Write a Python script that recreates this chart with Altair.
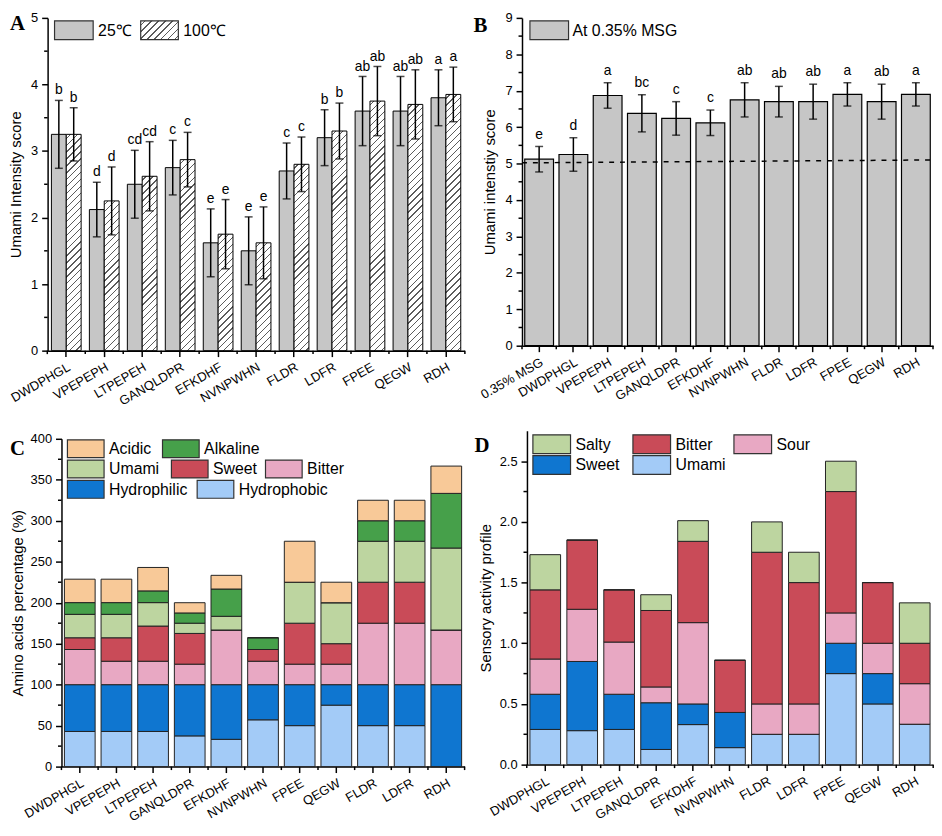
import altair as alt
import pandas as pd

SANS = "Liberation Sans"
SERIF = "Liberation Serif"

# ------------------------------------------------------------------ data
peptides_a = ["DWDPHGL", "VPEPEPH", "LTPEPEH", "GANQLDPR", "EFKDHF", "NVNPWHN",
              "FLDR", "LDFR", "FPEE", "QEGW", "RDH"]
score_25 = [3.25, 2.12, 2.50, 2.75, 1.62, 1.50, 2.70, 3.20, 3.60, 3.60, 3.80]
err_25 = [0.51, 0.41, 0.51, 0.41, 0.51, 0.51, 0.42, 0.42, 0.52, 0.52, 0.42]
score_100 = [3.25, 2.25, 2.62, 2.87, 1.75, 1.62, 2.80, 3.30, 3.75, 3.70, 3.85]
err_100 = [0.40, 0.51, 0.52, 0.41, 0.52, 0.54, 0.41, 0.42, 0.52, 0.52, 0.41]
letters_a = ["b", "d", "cd", "c", "e", "e", "c", "b", "ab", "ab", "a"]
temps = ["25℃", "100℃"]

samples_b = ["0.35% MSG", "DWDPHGL", "VPEPEPH", "LTPEPEH", "GANQLDPR", "EFKDHF",
             "NVNPWHN", "FLDR", "LDFR", "FPEE", "QEGW", "RDH"]
score_b = [5.12, 5.25, 6.87, 6.38, 6.24, 6.12, 6.75, 6.70, 6.70, 6.90, 6.70, 6.90]
err_b = [0.35, 0.46, 0.35, 0.51, 0.46, 0.35, 0.47, 0.42, 0.48, 0.32, 0.48, 0.32]
letters_b = ["e", "d", "a", "bc", "c", "c", "ab", "ab", "ab", "a", "ab", "a"]
msg_line = [5.02, 5.10]
legend_b = "At 0.35% MSG"

peptides_c = ["DWDPHGL", "VPEPEPH", "LTPEPEH", "GANQLDPR", "EFKDHF", "NVNPWHN",
              "FPEE", "QEGW", "FLDR", "LDFR", "RDH"]
names_c = ["Hydrophobic", "Hydrophilic", "Bitter", "Sweet", "Umami", "Alkaline", "Acidic"]
hydrophobic_c = [42.9, 42.9, 42.9, 37.5, 33.3, 57.1, 50.0, 75.0, 50.0, 50.0, 0.0]
hydrophilic_c = [57.1, 57.1, 57.1, 62.5, 66.7, 42.9, 50.0, 25.0, 50.0, 50.0, 100.0]
bitter_c = [42.9, 28.6, 28.6, 25.0, 66.7, 28.6, 25.0, 25.0, 75.0, 75.0, 66.7]
sweet_c = [14.3, 28.6, 42.9, 37.5, 0.0, 14.3, 50.0, 25.0, 50.0, 50.0, 0.0]
umami_c = [28.6, 28.6, 28.6, 12.5, 16.7, 0.0, 50.0, 50.0, 50.0, 50.0, 100.0]
alkaline_c = [14.3, 14.3, 14.3, 12.5, 33.3, 14.3, 0.0, 0.0, 25.0, 25.0, 66.7]
acidic_c = [28.6, 28.6, 28.6, 12.5, 16.7, 0.0, 50.0, 25.0, 25.0, 25.0, 33.3]

peptides_d = ["DWDPHGL", "VPEPEPH", "LTPEPEH", "GANQLDPR", "EFKDHF", "NVNPWHN",
              "FLDR", "LDFR", "FPEE", "QEGW", "RDH"]
names_d = ["Umami", "Sweet", "Sour", "Bitter", "Salty"]
umami_d = [0.29, 0.28, 0.29, 0.125, 0.33, 0.14, 0.25, 0.25, 0.75, 0.50, 0.333]
sweet_d = [0.29, 0.57, 0.29, 0.385, 0.17, 0.29, 0.0, 0.0, 0.25, 0.25, 0.0]
sour_d = [0.29, 0.43, 0.43, 0.13, 0.67, 0.0, 0.25, 0.25, 0.25, 0.25, 0.334]
bitter_d = [0.57, 0.57, 0.43, 0.63, 0.67, 0.43, 1.25, 1.00, 1.00, 0.50, 0.333]
salty_d = [0.29, 0.0, 0.0, 0.13, 0.17, 0.0, 0.25, 0.25, 0.25, 0.0, 0.333]

# ------------------------------------------------------------------ style / layout
GRAY = "#c6c6c6"
PEACH = "#f8c998"
GREEN = "#46a04a"
LGREEN = "#bdd5a0"
RED = "#c94b58"
PINK = "#e8a8c3"
BLUE = "#0f76d0"
LBLUE = "#a3cbf7"
colors_c = [LBLUE, BLUE, PINK, RED, LGREEN, GREEN, PEACH]
colors_d = [LBLUE, BLUE, PINK, RED, LGREEN]

COL1, COL2 = 421, 415          # grid column widths (plot areas)
HA, HB = 336, 331
# panel C: plot area inside its cell
C_X0, C_X1, C_Y0, C_Y1 = 14, 421, 8, 339
# panel D
D_X0, D_X1, D_H = 5, 415, 337
TICK = 6
MINOR = 3.5


def hatch(w, h, step=7.0, lw=1.3, ink="#5c5c5c", paper="white"):
    """diagonal '///' hatch as a hard-stop linear gradient in bbox units"""
    total = w + h
    c = (1 / h + 1 / w) / (1 / h ** 2 + 1 / w ** 2)
    stops = [{"offset": 0, "color": paper}]
    pos = step / 2
    while pos + lw < total:
        a, b = round(pos / total, 5), round((pos + lw) / total, 5)
        stops += [{"offset": a, "color": paper}, {"offset": a, "color": ink},
                  {"offset": b, "color": ink}, {"offset": b, "color": paper}]
        pos += step
    stops.append({"offset": 1, "color": paper})
    return {"gradient": "linear", "x1": 0, "y1": 0, "x2": round(c / h, 5),
            "y2": round(c / w, 5), "stops": stops}


XAXIS = alt.Axis(title=None, labelAngle=330, labelAlign="right", labelBaseline="top",
                 labelPadding=4, tickSize=TICK, labelFontSize=13, labelOverlap=False,
                 domainWidth=1.5, tickWidth=1.5)


class Panel:
    def __init__(self, order, pi, po, xr, yr, domain, values, title, tpad, fmt=None):
        self.order, self.pi, self.po, self.xr, self.yr = order, pi, po, xr, yr
        self.domain = domain
        akw = dict(values=values, title=title, tickSize=TICK, labelPadding=4,
                   titlePadding=tpad, labelFontSize=13, titleFontSize=15, offset=-xr[0])
        if fmt:
            akw["format"] = fmt
        self.yaxis = alt.Axis(**akw)

    def x(self, **kw):
        return alt.X("pep:N", sort=self.order,
                     scale=alt.Scale(paddingInner=self.pi, paddingOuter=self.po,
                                     range=list(self.xr)),
                     axis=XAXIS, **kw)

    def yscale(self):
        return alt.Scale(domain=self.domain, nice=False, range=list(self.yr))

    def y(self, field, **kw):
        return alt.Y(field, scale=self.yscale(), axis=self.yaxis, **kw)

    def step(self):
        return (self.xr[1] - self.xr[0]) / (len(self.order) - self.pi + 2 * self.po)

    def minor(self, minor_vals):
        gap = self.pi * self.step()
        x0 = self.xr[0]
        ybot = self.yr[0]
        ymin = alt.Chart(pd.DataFrame({"v": minor_vals})).mark_rule(
            color="black", strokeWidth=1.5).encode(
            y=self.y("v:Q"), x=alt.value(x0), x2=alt.value(x0 - MINOR))
        xmin = alt.Chart(pd.DataFrame({"pep": self.order})).mark_rule(
            color="black", strokeWidth=1.5, xOffset=-gap / 2).encode(
            x=self.x(bandPosition=0), y=alt.value(ybot), y2=alt.value(ybot + MINOR))
        xend = alt.Chart(pd.DataFrame({"pep": self.order[-1:]})).mark_rule(
            color="black", strokeWidth=1.5, xOffset=gap / 2).encode(
            x=self.x(bandPosition=1), y=alt.value(ybot), y2=alt.value(ybot + MINOR))
        return [ymin, xmin, xend]


one = pd.DataFrame({"d": [0]})


def box(x0, x1, y0, y1, fill, stroke="#333333", sw=1.2):
    return alt.Chart(one).mark_rect(fill=fill, stroke=stroke, strokeWidth=sw).encode(
        x=alt.value(x0), x2=alt.value(x1), y=alt.value(y0), y2=alt.value(y1))


def label(x, y, text, size=16):
    return alt.Chart(one).mark_text(align="left", baseline="middle", fontSize=size,
                                    font=SANS, color="black").encode(
        x=alt.value(x), y=alt.value(y), text=alt.value(text))


def panel_letter(x, y, text):
    return alt.Chart(one).mark_text(align="left", baseline="middle", fontSize=21,
                                    font=SERIF, fontWeight="bold", color="black").encode(
        x=alt.value(x), y=alt.value(y), text=alt.value(text))


# ------------------------------------------------------------------ panel A
pA = Panel(peptides_a, 0.217, 0.10, (0, COL1), (HA, 0), [0, 5], [0, 1, 2, 3, 4, 5],
           "Umami Intensity score", 7)
dfA = pd.DataFrame({"pep": peptides_a, "s25": score_25, "e25": err_25,
                    "s100": score_100, "e100": err_100, "lab": letters_a})
dfA["lo25"] = dfA.s25 - dfA.e25
dfA["hi25"] = dfA.s25 + dfA.e25
dfA["lo100"] = dfA.s100 - dfA.e100
dfA["hi100"] = dfA.s100 + dfA.e100
BW = 15

layersA = [alt.Chart(dfA).mark_bar(width=BW, xOffset=-BW / 2, fill=GRAY, stroke="black",
                                   strokeWidth=1).encode(x=pA.x(), y=pA.y("s25:Q"))]
for i, pep in enumerate(peptides_a):
    h = score_100[i] / 5 * HA
    layersA.append(alt.Chart(dfA[dfA.pep == pep]).mark_bar(
        width=BW, xOffset=BW / 2, fill=hatch(BW, h), stroke="black", strokeWidth=1).encode(
        x=pA.x(), y=pA.y("s100:Q")))
for key, off in (("25", -BW / 2), ("100", BW / 2)):
    layersA.append(alt.Chart(dfA).mark_rule(color="black", strokeWidth=1.5, xOffset=off).encode(
        x=pA.x(), y=pA.y(f"lo{key}:Q"), y2=f"hi{key}:Q"))
    for end in ("lo", "hi"):
        layersA.append(alt.Chart(dfA).mark_tick(color="black", size=8, thickness=1.5,
                                                orient="horizontal", xOffset=off).encode(
            x=pA.x(), y=pA.y(f"{end}{key}:Q")))
    layersA.append(alt.Chart(dfA).mark_text(fontSize=14, font=SANS, baseline="alphabetic",
                                            dy=-6, xOffset=off, color="black").encode(
        x=pA.x(), y=pA.y(f"hi{key}:Q"), text="lab:N"))
layersA += pA.minor([0.5, 1.5, 2.5, 3.5, 4.5])
layersA += [box(7, 46, 3, 22, GRAY), label(51, 13, temps[0]),
            box(94, 132, 3, 22, hatch(38, 19)), label(137, 13, temps[1]),
            panel_letter(-38, 6, "A")]
chartA = alt.layer(*layersA).properties(width=COL1, height=HA)

# ------------------------------------------------------------------ panel B
pB = Panel(samples_b, 0.16, 0.08, (0, COL2), (HB, 0), [0, 9], list(range(10)),
           "Umami intenstiy score", 8)
dfB = pd.DataFrame({"pep": samples_b, "s": score_b, "e": err_b, "lab": letters_b})
dfB["lo"] = dfB.s - dfB.e
dfB["hi"] = dfB.s + dfB.e
layersB = [
    alt.Chart(dfB).mark_bar(fill=GRAY, stroke="black", strokeWidth=1.2).encode(
        x=pB.x(), y=pB.y("s:Q")),
    alt.Chart(dfB).mark_rule(color="black", strokeWidth=1.5).encode(
        x=pB.x(), y=pB.y("lo:Q"), y2="hi:Q"),
    alt.Chart(dfB).mark_tick(color="black", size=8, thickness=1.5, orient="horizontal").encode(
        x=pB.x(), y=pB.y("lo:Q")),
    alt.Chart(dfB).mark_tick(color="black", size=8, thickness=1.5, orient="horizontal").encode(
        x=pB.x(), y=pB.y("hi:Q")),
    alt.Chart(dfB).mark_text(fontSize=14, font=SANS, baseline="alphabetic", dy=-8,
                             color="black").encode(
        x=pB.x(), y=pB.y("hi:Q"), text="lab:N"),
    alt.Chart(one).mark_rule(color="black", strokeWidth=1.5, strokeDash=[5, 6]).encode(
        x=alt.value(0), x2=alt.value(COL2),
        y=alt.YDatum(msg_line[0], scale=pB.yscale(), axis=pB.yaxis),
        y2=alt.Y2Datum(msg_line[1])),
]
layersB += pB.minor([i + 0.5 for i in range(9)])
layersB += [box(8, 47, 3, 22, GRAY), label(51, 13, legend_b), panel_letter(-49, 8, "B")]
chartB = alt.layer(*layersB).properties(width=COL2, height=HB)


# ------------------------------------------------------------------ stacked panels
def stacked(p, names, series, colors, W, H, minor_vals, legend, letter):
    rows = []
    for k, (name, vals) in enumerate(zip(names, series)):
        for pep, v in zip(p.order, vals):
            rows.append({"pep": pep, "cat": name, "val": v, "ord": k})
    df = pd.DataFrame(rows)
    bars = alt.Chart(df).mark_bar(stroke="#222222", strokeWidth=1).encode(
        x=p.x(), y=p.y("val:Q", stack="zero"),
        color=alt.Color("cat:N", scale=alt.Scale(domain=names, range=colors), legend=None),
        order=alt.Order("ord:Q"))
    layers = [bars] + p.minor(minor_vals)
    cmap = dict(zip(names, colors))
    ox, oy = p.xr[0], p.yr[1]
    for name, bx, by, bw, bh in legend:
        layers.append(box(ox + bx, ox + bx + bw, oy + by, oy + by + bh, cmap[name]))
        layers.append(label(ox + bx + bw + 5, oy + by + bh / 2 + 0.5, name))
    layers.append(panel_letter(*letter))
    return alt.layer(*layers).properties(width=W, height=H)


pC = Panel(peptides_c, 0.162, 0.08, (C_X0, C_X1), (C_Y1, C_Y0), [0, 400],
           list(range(0, 401, 50)), "Amino acids percentage (%)", 5)
legend_c = [("Acidic", 6, 1, 37, 18), ("Alkaline", 102, 1, 37, 18),
            ("Umami", 6, 21.5, 37, 18), ("Sweet", 111, 21.5, 37, 18),
            ("Bitter", 206, 21.5, 37, 18),
            ("Hydrophilic", 6, 42, 37, 18), ("Hydrophobic", 137, 42, 37, 18)]
chartC = stacked(pC, names_c,
                 [hydrophobic_c, hydrophilic_c, bitter_c, sweet_c, umami_c, alkaline_c, acidic_c],
                 colors_c, COL1, C_Y1, list(range(25, 400, 50)), legend_c, (-38, 18, "C"))

pD = Panel(peptides_d, 0.17, 0.08, (D_X0, D_X1), (D_H, 0), [0, 2.75],
           [0, 0.5, 1.0, 1.5, 2.0, 2.5], "Sensory activity profile", 6, ".1f")
legend_d = [("Salty", 6, 4, 38, 19), ("Bitter", 107, 4, 38, 19), ("Sour", 209, 4, 38, 19),
            ("Sweet", 6, 25, 38, 19), ("Umami", 107, 25, 38, 19)]
chartD = stacked(pD, names_d, [umami_d, sweet_d, sour_d, bitter_d, salty_d],
                 colors_d, COL2, D_H, [0.25, 0.75, 1.25, 1.75, 2.25], legend_d,
                 (-48, 15, "D"))

# ------------------------------------------------------------------ assemble
chart = alt.concat(chartA, chartB, chartC, chartD, columns=2, bounds="flush",
                   spacing={"row": 81, "column": 58}, padding=0).resolve_scale(
    color="independent").configure_view(stroke=None).configure_axis(
    labelFont=SANS, titleFont=SANS, labelColor="black", titleColor="black",
    domainColor="black", tickColor="black", domainWidth=1.5, tickWidth=1.5,
    grid=False, titleFontWeight="normal").configure_text(font=SANS)

chart.save("out.html", embed_options={"renderer": "svg", "actions": False})
